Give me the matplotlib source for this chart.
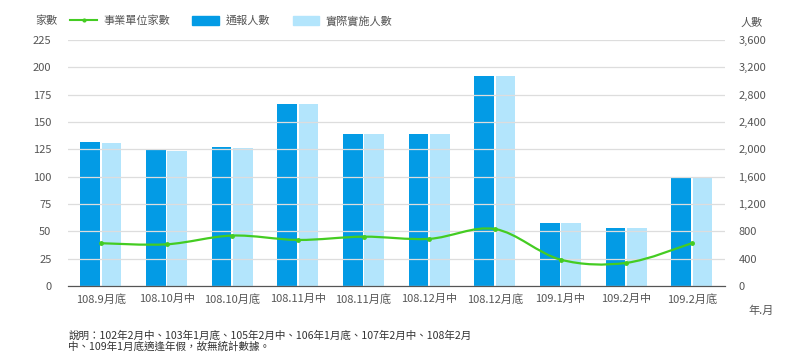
import numpy as np
import matplotlib
matplotlib.use("Agg")
import matplotlib.pyplot as plt
from matplotlib.path import Path
from matplotlib.patches import PathPatch
from matplotlib.lines import Line2D
from matplotlib.patches import Patch

plt.rcParams['font.family'] = ['Noto Sans CJK TC', 'DejaVu Sans']
plt.rcParams['font.size'] = 8

categories = ['108.9月底', '108.10月中', '108.10月底', '108.11月中', '108.11月底',
              '108.12月中', '108.12月底', '109.1月中', '109.2月中', '109.2月底']
units = [39, 38, 46, 42, 45, 43, 52, 24, 21, 39]            # 事業單位家數
reported = [2104, 1990, 2034, 2664, 2224, 2224, 3073, 924, 848, 1600]   # 通報人數
actual = [2088, 1976, 2019, 2660, 2224, 2224, 3073, 924, 848, 1600]     # 實際實施人數

dark = '#039be5'
light = '#b3e5fc'
green = '#44cc22'
txt = '#555555'

fig = plt.figure(figsize=(7.92, 3.6), dpi=100, facecolor='white')
ax = fig.add_axes([0.086, 0.206, 0.829, 0.683])
ax2 = ax.twinx()

x = np.arange(len(categories))
w = 0.3
ax2.bar(x - w / 2 - 0.012, reported, w, color=dark, zorder=2)
ax2.bar(x + w / 2 + 0.012, actual, w, color=light, zorder=2)
ax2.set_ylim(0, 3600)
ax2.set_yticks(np.arange(0, 3601, 400))
ax2.set_yticklabels([f'{v:,}' for v in range(0, 3601, 400)])

ax.set_ylim(0, 225)
ax.set_yticks(np.arange(0, 226, 25))
ax.set_xlim(-0.5, len(categories) - 0.5)
ax.set_xticks(x)
ax.set_xticklabels(categories)
ax.grid(axis='y', color='#dddddd', linewidth=0.9)
ax.set_axisbelow(True)

# smooth line drawn above the bars (ax on top of ax2)
ax.set_zorder(ax2.get_zorder() + 1)
ax.patch.set_visible(False)
pts = np.column_stack([x, units]).astype(float)
verts = [tuple(pts[0])]
codes = [Path.MOVETO]
for i in range(len(pts) - 1):
    p0 = pts[i - 1] if i > 0 else pts[i]
    p1, p2 = pts[i], pts[i + 1]
    p3 = pts[i + 2] if i + 2 < len(pts) else pts[i + 1]
    c1 = p1 + (p2 - p0) / 6
    c2 = p2 - (p3 - p1) / 6
    verts += [tuple(c1), tuple(c2), tuple(p2)]
    codes += [Path.CURVE4] * 3
ax.add_patch(PathPatch(Path(verts, codes), fill=False, edgecolor=green, lw=1.6, zorder=5))
ax.plot(x, units, 'o', color=green, ms=2.5, zorder=6)

for a in (ax, ax2):
    for s in ('top', 'left', 'right'):
        a.spines[s].set_visible(False)
    a.spines['bottom'].set_color('#555555')
    a.tick_params(length=0, colors=txt, labelsize=8)
ax.tick_params(axis='x', pad=6)
ax.tick_params(axis='y', pad=12)
ax2.tick_params(axis='y', pad=10)

fig.text(0.044, 0.942, '家數', color=txt, fontsize=8, va='center')
fig.text(0.935, 0.928, '人數', color=txt, fontsize=8)
fig.text(0.945, 0.128, '年.月', color=txt, fontsize=8)

handles = [Line2D([0], [0], color=green, lw=1.5, marker='o', ms=2),
           Patch(color=dark), Patch(color=light)]
fig.legend(handles, ['事業單位家數', '通報人數', '實際實施人數'], loc='center left',
           bbox_to_anchor=(0.076, 0.942), ncol=3, frameon=False, fontsize=8,
           labelcolor=txt, handlelength=2.4, handleheight=0.9, columnspacing=2.0,
           handletextpad=0.6)

fig.text(0.086, 0.022, '說明：102年2月中、103年1月底、105年2月中、106年1月底、107年2月中、108年2月\n'
         '中、109年1月底適逢年假，故無統計數據。', color='#333333', fontsize=7.6,
         linespacing=1.1, va='bottom')

fig.savefig('out.png', dpi=100)
